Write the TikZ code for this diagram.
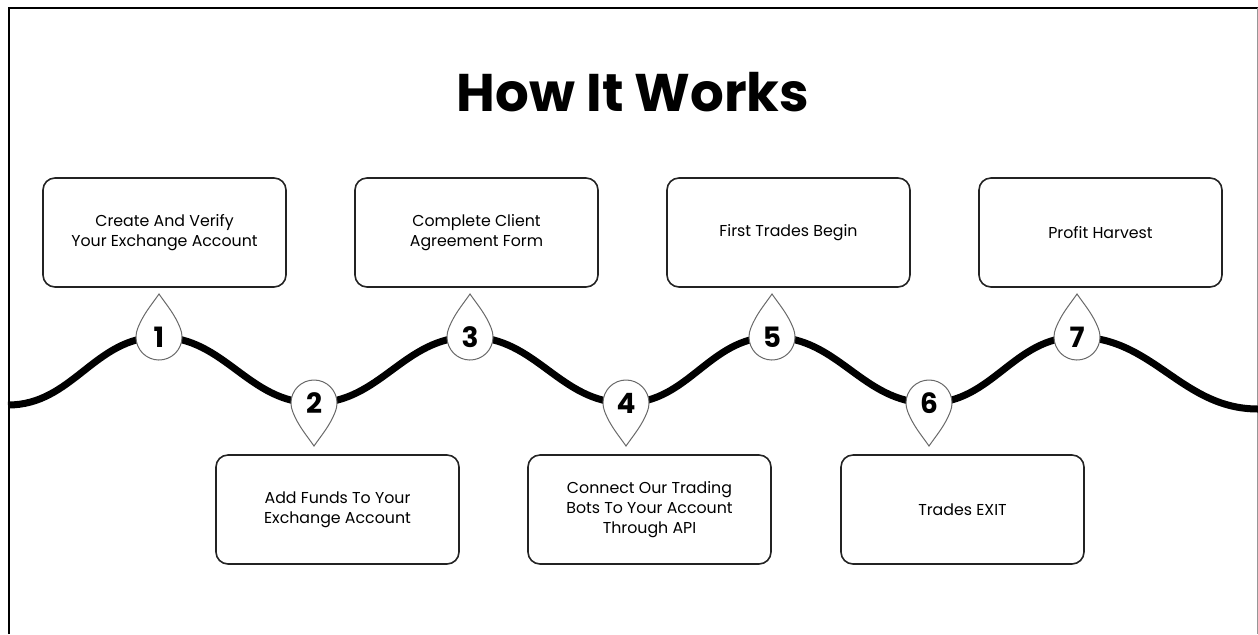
\documentclass[tikz,border=0pt]{standalone}
\usepackage{fontspec}
\setmainfont{Poppins}
\usepackage{tikz}
\usetikzlibrary{positioning}
\definecolor{boxline}{RGB}{35,35,35}
\definecolor{pinline}{RGB}{105,105,105}
\definecolor{frameright}{RGB}{150,150,150}
\tikzstyle{stepbox}=[draw=boxline, line width=0.8pt, rounded corners=6pt, minimum width=121.5pt, minimum height=54.5pt, inner sep=0pt, align=center, font=\fontsize{7.9}{10}\selectfont]
\tikzstyle{wave}=[line width=3.5pt, black]
\tikzstyle{pinnum}=[font=\fontsize{14}{14}\selectfont\bfseries, inner sep=0pt]
\tikzstyle{heading}=[font=\fontsize{26.5}{26.5}\selectfont\bfseries]
\tikzset{droppin/.pic={\draw[pinline, line width=0.5pt, fill=white] (0,43) to[out=-55,in=112] (22:23) arc[start angle=22, end angle=-202, radius=23] to[out=68,in=-125] (0,43) -- cycle;}}

\begin{document}
\begin{tikzpicture}[x=0.5pt,y=0.5pt]
		    \useasboundingbox (0,0) rectangle (1258,-634);
		    % frame
		    \draw[black, line width=1pt] (8.5,-634) -- (8.5,-7.5) -- (1258,-7.5);
		    \draw[frameright, line width=0.5pt] (1257,-7.5) -- (1257,-634);
		    \node[heading] (title) at (633,-92) {How It Works};
		    % steps
		    \node [stepbox] (s1) at (164.5,-232.5) {Create And Verify\\Your Exchange Account};
		    \node [stepbox] (s3) at (476.5,-232.5) {Complete Client\\Agreement Form};
		    \node [stepbox] (s5) at (788.5,-232.5) {First Trades Begin};
		    \node [stepbox] (s7) at (1100.5,-232.5) {Profit Harvest};
		    \node [stepbox] (s2) at (337.5,-509.5) {Add Funds To Your\\Exchange Account};
		    \node [stepbox] (s4) at (649.5,-509.5) {Connect Our Trading\\Bots To Your Account\\Through API};
		    \node [stepbox] (s6) at (962.5,-509.5) {Trades EXIT};
		    % wave
		    \coordinate (start) at (8,-405);
		    \coordinate (p1) at (159,-337);
		    \coordinate (p2) at (314,-403);
		    \coordinate (p3) at (470,-337);
		    \coordinate (p4) at (626,-403);
		    \coordinate (p5) at (772,-337);
		    \coordinate (p6) at (929,-403);
		    \coordinate (p7) at (1077,-337);
		    \coordinate (end) at (1258,-409);
		    \draw[wave] (start) to[out=0,in=180] (p1) to[out=0,in=180] (p2)
		      to[out=0,in=180] (p3) to[out=0,in=180] (p4) to[out=0,in=180] (p5)
		      to[out=0,in=180] (p6) to[out=0,in=180] (p7) to[out=0,in=180] (end);
		    % pins
		    \foreach \i in {1,3,5,7} {
		      \pic at (p\i) {droppin};
		      \node[pinnum] (n\i) at (p\i) {\i};
		    }
		    \foreach \i in {2,4,6} {
		      \pic[rotate=180] at (p\i) {droppin};
		      \node[pinnum] (n\i) at (p\i) {\i};
		    }
		\end{tikzpicture}
\end{document}
